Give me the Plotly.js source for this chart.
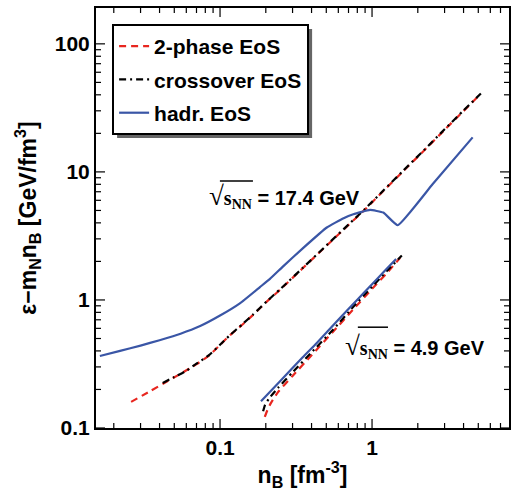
<!DOCTYPE html>
<html>
<head>
<meta charset="utf-8">
<script src="https://cdn.plot.ly/plotly-3.0.1.min.js"></script>
<style>
  html, body { margin: 0; padding: 0; background: #fff; }
  #plot { width: 515px; height: 491px; }
</style>
</head>
<body>
<div id="plot"></div>
<script>
// Energy density minus rest mass vs. baryon density along the fluid trajectories
// at sqrt(s_NN) = 17.4 GeV (upper bundle) and 4.9 GeV (lower bundle).

// 2-phase EoS, 17.4 GeV
const twoPhaseHighX = [0.026, 0.035, 0.045, 0.055, 0.07, 0.085, 0.1, 0.116, 0.14, 0.166, 0.203, 0.25, 0.35, 0.5, 0.7, 0.9, 1.2, 1.6, 2.2, 3.0, 4.0, 5.1];
const twoPhaseHighY = [0.160, 0.195, 0.232, 0.265, 0.315, 0.37, 0.445, 0.53, 0.64, 0.77, 0.97, 1.21, 1.77, 2.64, 3.85, 5.1, 7.2, 10.1, 14.7, 21.3, 29.9, 39.9];

// crossover EoS, 17.4 GeV
const crossHighX = [0.042, 0.05, 0.06, 0.07, 0.085, 0.1, 0.116, 0.14, 0.166, 0.203, 0.25, 0.35, 0.5, 0.7, 0.9, 1.2, 1.6, 2.2, 3.0, 4.0, 5.2];
const crossHighY = [0.225, 0.250, 0.280, 0.318, 0.372, 0.447, 0.53, 0.645, 0.775, 0.975, 1.22, 1.78, 2.66, 3.88, 5.15, 7.25, 10.2, 14.8, 21.5, 30.2, 40.9];

// hadronic EoS, 17.4 GeV
const hadrHighX = [0.0162, 0.022, 0.03, 0.04, 0.055, 0.074, 0.1, 0.135, 0.183, 0.213, 0.26, 0.353, 0.504, 0.65, 0.753, 0.97, 1.187, 1.476, 2.5, 4.59];
const hadrHighY = [0.365, 0.40, 0.44, 0.485, 0.545, 0.625, 0.755, 0.94, 1.26, 1.46, 1.83, 2.55, 3.68, 4.35, 4.67, 5.05, 4.81, 3.83, 8.0, 18.6];

// 2-phase EoS, 4.9 GeV
const twoPhaseLowX = [0.197, 0.205, 0.215, 0.24, 0.3, 0.4, 0.55, 0.75, 1.0, 1.25, 1.53];
const twoPhaseLowY = [0.122, 0.138, 0.155, 0.19, 0.255, 0.37, 0.56, 0.84, 1.22, 1.62, 2.13];

// crossover EoS, 4.9 GeV
const crossLowX = [0.192, 0.198, 0.21, 0.24, 0.3, 0.4, 0.55, 0.75, 1.0, 1.25, 1.57];
const crossLowY = [0.135, 0.152, 0.170, 0.205, 0.272, 0.39, 0.58, 0.88, 1.27, 1.68, 2.22];

// hadronic EoS, 4.9 GeV
const hadrLowX = [0.186, 0.25, 0.35, 0.433, 0.6, 0.8, 1.0, 1.2, 1.44];
const hadrLowY = [0.162, 0.234, 0.357, 0.462, 0.70, 1.004, 1.325, 1.665, 2.09];

const legendNames = ['2-phase EoS', 'crossover EoS', 'hadr. EoS'];
const energyLabels = ['17.4 GeV', '4.9 GeV'];

// tick positions on the log axes (decades and the 2..9 subdivisions)
const majorTicksX = [0.1, 1];
const minorTicksX = [0.02, 0.03, 0.04, 0.05, 0.06, 0.07, 0.08, 0.09, 0.2, 0.3, 0.4, 0.5, 0.6, 0.7, 0.8, 0.9, 2, 3, 4, 5, 6, 7, 8];
const majorTicksY = [0.1, 1, 10, 100];
const minorTicksY = [0.2, 0.3, 0.4, 0.5, 0.6, 0.7, 0.8, 0.9, 2, 3, 4, 5, 6, 7, 8, 9, 20, 30, 40, 50, 60, 70, 80, 90];

const RED = '#e8261f';
const BLACK = '#000000';
const BLUE = '#3a56a6';
const FONT = 'Liberation Sans, Arial, sans-serif';
const SERIF = 'Liberation Serif, Times New Roman, serif';

function curve(x, y, name, color, dash, show, smoothing) {
  return {
    x: x, y: y, name: name, type: 'scatter', mode: 'lines',
    line: { color: color, width: 2.2, dash: dash, shape: 'spline', smoothing: smoothing },
    showlegend: show, legendgroup: name
  };
}

const DASH = '7px,5px';
const DASHDOT = '7px,4px,2px,4px';

const data = [
  curve(twoPhaseHighX, twoPhaseHighY, legendNames[0], RED, DASH, true, 0.5),
  curve(crossHighX, crossHighY, legendNames[1], BLACK, DASHDOT, true, 0.5),
  curve(hadrHighX, hadrHighY, legendNames[2], BLUE, 'solid', true, 0.35),
  curve(twoPhaseLowX, twoPhaseLowY, legendNames[0], RED, DASH, false, 0.5),
  curve(crossLowX, crossLowY, legendNames[1], BLACK, DASHDOT, false, 0.5),
  curve(hadrLowX, hadrLowY, legendNames[2], BLUE, 'solid', false, 0.5)
];

function sqrtLabel(energy) {
  return '<span style="font-family:' + SERIF + ';font-weight:normal;font-size:27px">√</span>' +
    '<span style="font-family:' + SERIF + ';font-weight:bold">s<sub>NN</sub></span> = ' + energy;
}

function axisBase() {
  return {
    type: 'log',
    showgrid: false,
    zeroline: false,
    showline: true,
    linecolor: '#000',
    linewidth: 2,
    mirror: true,
    ticks: '',
    dtick: 1,
    tickfont: { family: FONT, size: 21, color: '#000', weight: 'bold' }
  };
}

const baseShapes = [
  // radical overlines
  { type: 'line', xref: 'paper', yref: 'paper', x0: 0.300, x1: 0.380, y0: 0.588, y1: 0.588,
    line: { color: '#000', width: 1.5 } },
  { type: 'line', xref: 'paper', yref: 'paper', x0: 0.634, x1: 0.707, y0: 0.240, y1: 0.240,
    line: { color: '#000', width: 1.5 } }
];

const layout = {
  width: 515,
  height: 491,
  margin: { l: 96, r: 6, t: 8, b: 63 },
  paper_bgcolor: '#fff',
  plot_bgcolor: '#fff',
  font: { family: FONT, color: '#000' },
  xaxis: Object.assign(axisBase(), {
    range: [-1.816, 0.901],
    title: { text: 'n<sub>B</sub> [fm<sup>-3</sup>]', font: { family: FONT, size: 23, weight: 'bold' }, standoff: 11 }
  }),
  yaxis: Object.assign(axisBase(), {
    range: [-1, 2.28],
    title: { text: 'ε−m<sub>N</sub>n<sub>B</sub> [GeV/fm<sup>3</sup>]', font: { family: FONT, size: 23, weight: 'bold' }, standoff: 12 }
  }),
  legend: {
    x: 0.039, y: 0.962, xanchor: 'left', yanchor: 'top',
    bgcolor: '#fff', bordercolor: '#000', borderwidth: 2,
    font: { family: FONT, size: 21, weight: 'bold', color: '#000' },
    itemwidth: 30, tracegroupgap: 3
  },
  shapes: baseShapes.slice(),
  annotations: [
    { xref: 'paper', yref: 'paper', x: 0.269, y: 0.552, xanchor: 'left', yanchor: 'middle',
      text: sqrtLabel(energyLabels[0]), showarrow: false,
      font: { family: FONT, size: 20, weight: 'bold', color: '#000' } },
    { xref: 'paper', yref: 'paper', x: 0.598, y: 0.195, xanchor: 'left', yanchor: 'middle',
      text: sqrtLabel(energyLabels[1]), showarrow: false,
      font: { family: FONT, size: 20, weight: 'bold', color: '#000' } }
  ]
};

function tickLine(x0, x1, y0, y1) {
  return { type: 'line', xref: 'paper', yref: 'paper', x0: x0, x1: x1, y0: y0, y1: y1,
           line: { color: '#000', width: 1.2 }, layer: 'above' };
}

Plotly.newPlot('plot', data, layout, { displayModeBar: false }).then(function (gd) {
  const full = gd._fullLayout;
  const sz = full._size;
  const xa = full.xaxis;
  const ya = full.yaxis;
  const shapes = baseShapes.slice();

  // inward ticks on all four sides, placed with the axes' own value-to-pixel maps
  function addX(vals, len) {
    const h = len / sz.h;
    vals.forEach(function (v) {
      const p = xa.c2p(v);
      if (!(p >= 0 && p <= sz.w)) return;
      const fx = p / sz.w;
      shapes.push(tickLine(fx, fx, 0, h));
      shapes.push(tickLine(fx, fx, 1, 1 - h));
    });
  }
  function addY(vals, len) {
    const w = len / sz.w;
    vals.forEach(function (v) {
      const p = ya.c2p(v);
      if (!(p >= 0 && p <= sz.h)) return;
      const fy = 1 - p / sz.h;
      shapes.push(tickLine(0, w, fy, fy));
      shapes.push(tickLine(1, 1 - w, fy, fy));
    });
  }
  addX(majorTicksX, 9);
  addX(minorTicksX, 5);
  addY(majorTicksY, 9);
  addY(minorTicksY, 5);

  // drop shadow offset from the measured legend box
  const bg = gd.querySelector('.legend .bg');
  if (bg) {
    const box = bg.getBoundingClientRect();
    const host = gd.getBoundingClientRect();
    const off = 4;
    const px = function (v) { return (v - host.left - sz.l) / sz.w; };
    const py = function (v) { return 1 - (v - host.top - sz.t) / sz.h; };
    shapes.unshift({ type: 'rect', xref: 'paper', yref: 'paper',
      x0: px(box.left + off), x1: px(box.right + off),
      y0: py(box.bottom + off), y1: py(box.top + off),
      fillcolor: '#666', line: { width: 0 }, layer: 'above' });
  }
  return Plotly.relayout(gd, { shapes: shapes });
});
</script>
</body>
</html>
